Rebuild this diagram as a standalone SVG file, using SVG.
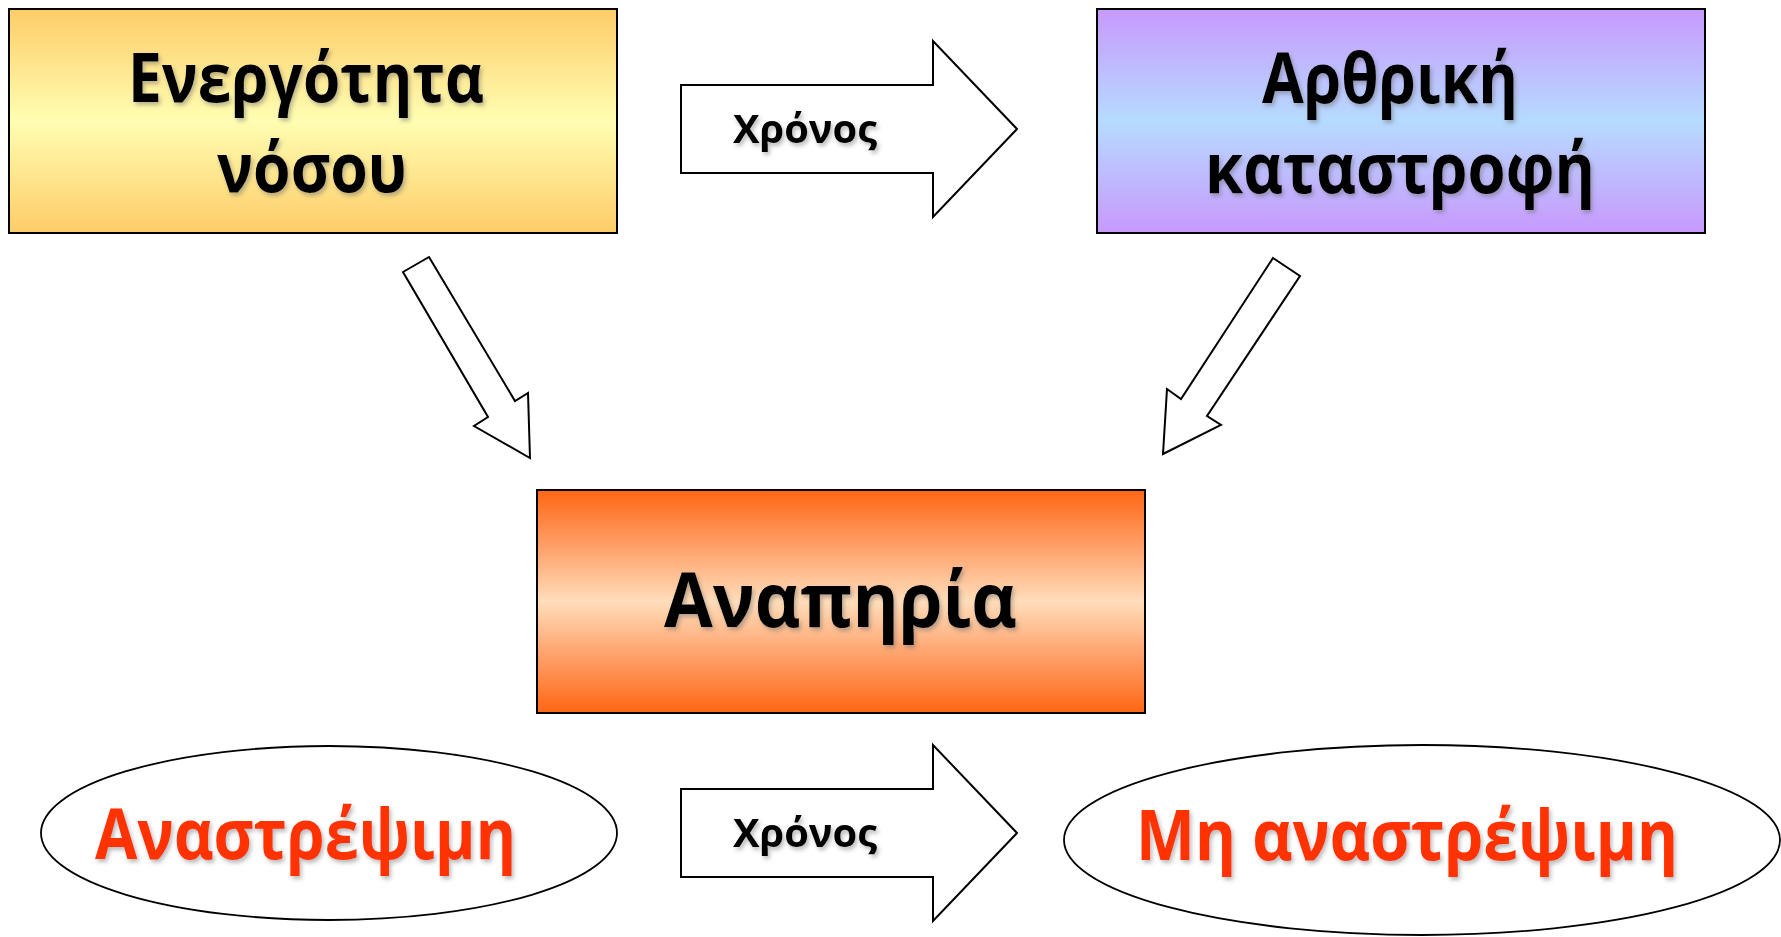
<svg xmlns="http://www.w3.org/2000/svg" width="1781" height="937" viewBox="0 0 1781 937">
<defs>
<linearGradient id="gYellow" x1="0" y1="0" x2="0" y2="1">
<stop offset="0" stop-color="#FECC68"/>
<stop offset="0.5" stop-color="#FFFEB2"/>
<stop offset="1" stop-color="#FECC68"/>
</linearGradient>
<linearGradient id="gPurple" x1="0" y1="0" x2="0" y2="1">
<stop offset="0" stop-color="#C899FD"/>
<stop offset="0.5" stop-color="#B6DBFF"/>
<stop offset="1" stop-color="#C899FD"/>
</linearGradient>
<linearGradient id="gOrange" x1="0" y1="0" x2="0" y2="1">
<stop offset="0" stop-color="#FF6614"/>
<stop offset="0.25" stop-color="#FF9F68"/>
<stop offset="0.5" stop-color="#FFDDBA"/>
<stop offset="0.75" stop-color="#FF9F68"/>
<stop offset="1" stop-color="#FF6614"/>
</linearGradient>
<filter id="shadow" x="-10%" y="-30%" width="120%" height="160%">
<feGaussianBlur in="SourceAlpha" stdDeviation="2" result="b"/>
<feOffset in="b" dx="2" dy="3" result="o"/>
<feFlood flood-color="#666" flood-opacity="0.45"/>
<feComposite in2="o" operator="in" result="s"/>
<feMerge><feMergeNode in="s"/><feMergeNode in="SourceGraphic"/></feMerge>
</filter>
</defs>
<style>
.box{stroke:#000;stroke-width:2}
.t{font-family:"Open Sans","Noto Sans","DejaVu Sans",sans-serif;font-weight:bold;fill:#000;filter:url(#shadow)}
.big{font-size:70px}
.mid{font-size:40px}
.red{font-size:70px;fill:#FF3300}
.arrow{fill:#fff;stroke:#000;stroke-width:2;stroke-linejoin:miter}
.ell{fill:#fff;stroke:#000;stroke-width:1.8}
</style>
<g id="connectors">
<polygon class="arrow" points="681,85 933,85 933,41 1017,129 933,217 933,173 681,173"/>
<polygon class="arrow" points="681,789 933,789 933,745 1017,833 933,921 933,877 681,877"/>
<polygon class="arrow" points="429,257 515,401 528,393 530,458 474,426 488,417 403,272"/>
<polygon class="arrow" points="1273,258 1300,276 1207,416 1221,425 1163,454 1167,389 1181,399"/>
<text class="t mid" x="733" y="143" textLength="144" lengthAdjust="spacingAndGlyphs">Χρόνος</text>
<text class="t mid" x="733" y="847" textLength="144" lengthAdjust="spacingAndGlyphs">Χρόνος</text>
</g>
<g id="node-activity">
<rect class="box" x="9" y="9" width="608" height="224" fill="url(#gYellow)"/>
<text class="t big" x="128" y="102" textLength="356" lengthAdjust="spacingAndGlyphs" style="font-size:68px">Ενεργότητα</text>
<text class="t big" x="217" y="192" textLength="190" lengthAdjust="spacingAndGlyphs" style="font-size:68px">νόσου</text>
</g>
<g id="node-joint">
<rect class="box" x="1097" y="9" width="608" height="224" fill="url(#gPurple)"/>
<text class="t big" x="1262" y="103" textLength="256" lengthAdjust="spacingAndGlyphs">Αρθρική</text>
<text class="t big" x="1205" y="193" textLength="390" lengthAdjust="spacingAndGlyphs">καταστροφή</text>
</g>
<g id="node-disability">
<rect class="box" x="537" y="490" width="608" height="223" fill="url(#gOrange)"/>
<text class="t big" x="664" y="627" textLength="353" lengthAdjust="spacingAndGlyphs" style="font-size:75px">Αναπηρία</text>
</g>
<g id="node-reversible">
<ellipse class="ell" cx="329" cy="833" rx="288" ry="87"/>
<text class="t red" x="95" y="859" textLength="421" lengthAdjust="spacingAndGlyphs">Αναστρέψιμη</text>
</g>
<g id="node-irreversible">
<ellipse class="ell" cx="1422" cy="840" rx="358" ry="95"/>
<text class="t red" x="1136" y="860" textLength="542" lengthAdjust="spacingAndGlyphs">Μη αναστρέψιμη</text>
</g>
</svg>
